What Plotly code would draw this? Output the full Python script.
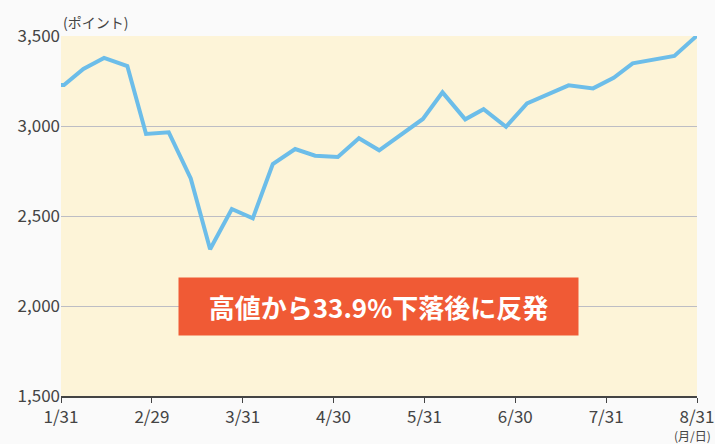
import plotly.graph_objects as go

# x position in months from 1/31 (0) to 8/31 (7)
month_pos = [0, 0.033, 0.246, 0.474, 0.730, 0.936, 1.186, 1.428, 1.641, 1.880,
             2.111, 2.331, 2.577, 2.797, 3.047, 3.279, 3.502, 3.983, 4.199, 4.449,
             4.651, 4.898, 5.129, 5.587, 5.856, 6.083, 6.292, 6.751, 7.0]
index_values = [3228, 3228, 3317, 3378, 3333, 2956, 2965, 2709, 2315, 2539,
                2487, 2789, 2872, 2835, 2828, 2932, 2865, 3039, 3187, 3037,
                3093, 2996, 3126, 3226, 3209, 3268, 3348, 3389, 3502]
tick_pos = [0, 1, 2, 3, 4, 5, 6, 7]
tick_labels = ["1/31", "2/29", "3/31", "4/30", "5/31", "6/30", "7/31", "8/31"]
y_ticks = [1500, 2000, 2500, 3000, 3500]

FONT = "Noto Sans CJK JP"

fig = go.Figure()
fig.add_trace(go.Scatter(
    x=month_pos, y=index_values, mode="lines",
    line=dict(color="#6cbde9", width=4), hoverinfo="skip",
))

fig.update_layout(
    width=715, height=444,
    margin=dict(l=61, r=18, t=36, b=48, autoexpand=False),
    paper_bgcolor="#fafafa",
    plot_bgcolor="#fdf4d8",
    showlegend=False,
    font=dict(family=FONT, color="#444444", size=15),
    xaxis=dict(
        range=[0, 7], tickvals=tick_pos, ticktext=tick_labels,
        showgrid=False, zeroline=False, automargin=False,
        showline=True, linecolor="#444444", linewidth=2,
        ticks="outside", ticklen=5, tickcolor="#444444", tickwidth=1,
        tickfont=dict(size=17, color="#444444", family=FONT),
    ),
    yaxis=dict(
        range=[1500, 3500], tickvals=y_ticks, tickformat=",",
        showgrid=True, gridcolor="#bdbdc4", gridwidth=1, automargin=False,
        zeroline=False, showline=False, ticks="",
        tickfont=dict(size=17, color="#444444", family=FONT),
    ),
    annotations=[
        dict(text="(ポイント)", xref="paper", yref="paper", x=0, y=1,
             xanchor="left", yanchor="bottom", yshift=2, showarrow=False,
             font=dict(size=14, color="#444444", family=FONT)),
        dict(text="(月/日)", xref="paper", yref="paper", x=1, y=0,
             xanchor="right", yanchor="top", yshift=-29, xshift=16, showarrow=False,
             font=dict(size=12, color="#444444", family=FONT)),
        dict(text="<b>高値から33.9%下落後に反発</b>", xref="paper", yref="paper",
             x=(378.5 - 61) / 636, y=(396 - 306.5) / 360, xanchor="center", yanchor="middle",
             showarrow=False,
             bgcolor="#f05a35", width=387, height=45, borderpad=6,
             font=dict(size=26, color="#ffffff", family=FONT)),
    ],
)

fig.write_html("out.html", config={"displayModeBar": False},
               post_script="document.body.style.margin='0';")
